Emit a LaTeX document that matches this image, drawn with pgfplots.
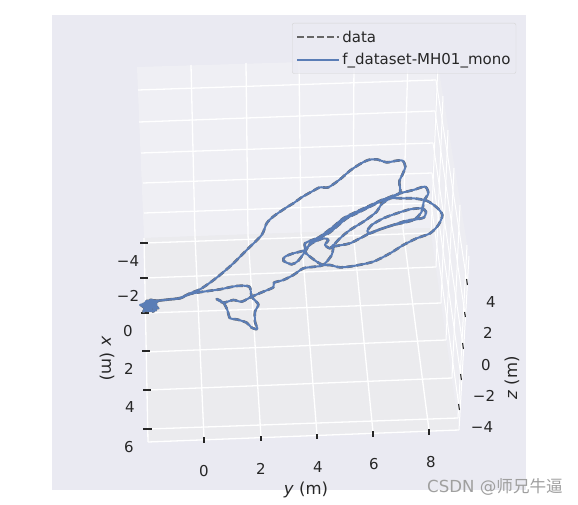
\documentclass[border=0pt]{standalone}
\usepackage{pgfplots}
\usepackage{pgfplotstable}
\usepackage{fontspec}
\pgfplotsset{compat=1.18}
\setmainfont{DejaVu Sans}
\newfontfamily\cjk{Noto Sans CJK SC}
\definecolor{bgc}{HTML}{EAEAF2}
\definecolor{wallc}{HTML}{EFEFF4}
\definecolor{floorc}{HTML}{EBEBEE}
\definecolor{sidec}{HTML}{EDEDF2}
\definecolor{trajc}{HTML}{4C72B0}
\definecolor{datac}{HTML}{666666}
\definecolor{txtc}{HTML}{262626}
\pgfplotstableread{
px py
115 512
95 512
80 520
60 525
80 530
70 545
88 535
100 545
105 530
115 535
100 522
112 515
90 510
85 530
75 520
95 540
85 515
105 525
72 538
90 528
82 512
68 530
98 532
78 542
108 540
88 522
110 525
75 528
92 515
115 512
150 508
180 504
210 490
240 478
270 458
300 435
340 400
380 360
425 315
440 280
462 258
500 232
520 220
545 202
575 185
600 172
625 172
660 148
690 122
720 102
745 90
770 88
800 97
830 92
848 92
856 110
848 132
838 155
840 188
810 205
785 222
770 245
735 272
690 300
660 325
640 348
665 345
690 340
720 325
745 312
780 298
820 285
860 272
890 268
912 262
918 245
905 235
870 238
830 250
790 265
755 285
742 303
750 310
780 298
820 285
880 270
905 245
912 212
925 190
915 170
880 180
840 190
800 205
760 225
720 245
680 265
650 290
625 310
590 325
555 340
555 360
520 370
495 380
490 392
515 403
535 392
555 365
575 335
600 320
640 290
670 265
710 245
760 222
800 205
850 205
880 205
920 212
950 232
967 255
955 285
930 310
890 325
850 345
810 370
760 395
700 408
660 412
630 405
610 405
590 395
555 365
575 340
610 325
625 330
615 345
630 355
640 345
635 375
610 405
585 410
550 415
520 435
490 450
462 458
460 472
430 485
395 500
365 515
340 510
310 518
290 507
310 518
322 540
330 565
350 568
380 578
395 593
412 597
405 575
405 545
415 523
395 500
388 470
350 468
300 478
250 485
210 492
180 505
150 508
115 512
}\traj
\begin{document}
\begin{tikzpicture}
\useasboundingbox (0,0) rectangle (578pt,505pt);
\begin{axis}[
  at={(0,0)},anchor=south west,
  scale only axis,width=578pt,height=505pt,
  xmin=0,xmax=578,ymin=0,ymax=505,y dir=reverse,
  hide axis,clip=false,
  legend cell align=left,
  legend style={at={(axis cs:292,23)},anchor=north west,
    fill=bgc,fill opacity=0.8,draw opacity=1,text opacity=1,draw=black!17,rounded corners=2pt,
    font=\fontsize{15}{18}\selectfont,text=txtc,inner xsep=3.5pt,inner ysep=5.5pt,
    row sep=5.5pt,
    /tikz/every even column/.append style={column sep=0pt}},
  legend image code/.code={\draw[#1,line width=1.9pt,opacity=1] (0pt,0pt) -- (33pt,0pt);
     \path (0pt,0pt) -- (42pt,0pt);},
]
% background
\addplot[fill=bgc,draw=none,forget plot] coordinates {(52,15)(526,15)(526,490)(52,490)} --cycle;
% panes
\addplot[fill=sidec,draw=none,forget plot] coordinates {(437,58)(469,256)(459,430)(430,228)} --cycle;
\addplot[fill=wallc,draw=none,forget plot] coordinates {(137,67)(437,58)(430,228)(144,238)} --cycle;
\addplot[fill=floorc,draw=none,forget plot] coordinates {(144,238)(430,228)(459,430)(148,442)} --cycle;
% wall and floor grid
\pgfplotsset{gl/.style={white,line width=1.3pt,forget plot}}
\addplot[gl] coordinates {(138,90)(436,80)};
\addplot[gl] coordinates {(139,122)(435,111)};
\addplot[gl] coordinates {(141,153)(433,143)};
\addplot[gl] coordinates {(143,183)(432,173)};
\addplot[gl] coordinates {(144,213)(431,203)};
\addplot[gl] coordinates {(191,65)(195,236)(204,438)};
\addplot[gl] coordinates {(246,63)(248,235)(261,437)};
\addplot[gl] coordinates {(299,62)(301,233)(317,435)};
\addplot[gl] coordinates {(354,60)(353,231)(373,432)};
\addplot[gl] coordinates {(408,59)(403,229)(429,430)};
\addplot[gl] coordinates {(145,243)(431,233)};
\addplot[gl] coordinates {(145,278)(436,267)};
\addplot[gl] coordinates {(146,313)(441,303)};
\addplot[gl] coordinates {(147,352)(446,340)};
\addplot[gl] coordinates {(148,390)(452,378)};
\addplot[gl] coordinates {(149,429)(458,418)};
\addplot[gl] coordinates {(148,442)(459,430)};
\addplot[gl] coordinates {(148,442)(144,238)};
% side wall grid
\addplot[gl,line width=1pt] coordinates {(436,80)(467,282)};
\addplot[gl,line width=1pt] coordinates {(435,111)(465,314)};
\addplot[gl,line width=1pt] coordinates {(433,143)(463,346)};
\addplot[gl,line width=1pt] coordinates {(432,173)(461,377)};
\addplot[gl,line width=1pt] coordinates {(431,203)(459,407)};
\addplot[gl,line width=1pt] coordinates {(431,233)(438,63)};
\addplot[gl,line width=1pt] coordinates {(436,267)(443,96)};
\addplot[gl,line width=1pt] coordinates {(441,303)(448,130)};
\addplot[gl,line width=1pt] coordinates {(446,340)(454,168)};
\addplot[gl,line width=1pt] coordinates {(452,378)(460,205)};
\addplot[gl,line width=1pt] coordinates {(458,418)(467,245)};
\addplot[gl,line width=1pt] coordinates {(459,430)(469,256)};
% ticks
\pgfplotsset{tk/.style={txtc,line width=1.1pt,forget plot}}
\addplot[tk] coordinates {(140,243)(148,243)};
\addplot[tk] coordinates {(140,278)(148,278)};
\addplot[tk] coordinates {(141,313)(149,313)};
\addplot[tk] coordinates {(142,351)(150,351)};
\addplot[tk] coordinates {(143,390)(151,390)};
\addplot[tk] coordinates {(143,429)(152,429)};
\addplot[tk] coordinates {(204,437)(204,443)};
\addplot[tk] coordinates {(261,436)(261,441)};
\addplot[tk] coordinates {(317,434)(317,439)};
\addplot[tk] coordinates {(373,431)(373,437)};
\addplot[tk] coordinates {(429,429)(429,435)};
\addplot[tk] coordinates {(466.6,279)(467.4,285)};
\addplot[tk] coordinates {(464.6,312)(465.4,317)};
\addplot[tk] coordinates {(462.6,343)(463.4,349)};
\addplot[tk] coordinates {(460.6,374)(461.4,380)};
\addplot[tk] coordinates {(458.6,404)(459.4,410)};
% trajectory
\addplot[datac,line width=2.6pt,dash pattern=on 6.5pt off 3.5pt,line join=round,smooth,tension=0.45] table[x expr=120+\thisrow{px}/3,y expr=130+\thisrow{py}/3] {\traj};
\addlegendentry{data}
\addplot[trajc!92!white,line width=2pt,line join=round,smooth,tension=0.45] table[x expr=120+\thisrow{px}/3,y expr=130+\thisrow{py}/3] {\traj};
\addlegendentry{f\_dataset-MH01\_mono\hspace{3pt}}
% labels
\begin{scope}[every node/.style={text=txtc,font=\fontsize{15}{18}\selectfont}]
\node at (axis cs:128,261) {−4};
\node at (axis cs:128,296) {−2};
\node at (axis cs:128,331) {0};
\node at (axis cs:129,369) {2};
\node at (axis cs:130,407) {4};
\node at (axis cs:129,447) {6};
\node at (axis cs:204,471) {0};
\node at (axis cs:261,469) {2};
\node at (axis cs:318,467) {4};
\node at (axis cs:374,464) {6};
\node at (axis cs:431,462) {8};
\node at (axis cs:491,302) {4};
\node at (axis cs:488,333) {2};
\node at (axis cs:486,365) {0};
\node at (axis cs:484,396) {−2};
\node at (axis cs:482,427) {−4};
\node[rotate=-90,font=\fontsize{16.5}{18}\selectfont] at (axis cs:107,359) {\textit{x} (m)};
\node[font=\fontsize{16.5}{18}\selectfont] at (axis cs:306,490) {\textit{y} (m)};
\node[rotate=90,font=\fontsize{16.5}{18}\selectfont] at (axis cs:512,378) {\textit{z} (m)};
\node[text=gray!75,font=\fontsize{16.6}{18}\selectfont] at (axis cs:495,487) {CSDN @{\cjk 师兄牛逼}};
\end{scope}
\end{axis}
\end{tikzpicture}
\end{document}
